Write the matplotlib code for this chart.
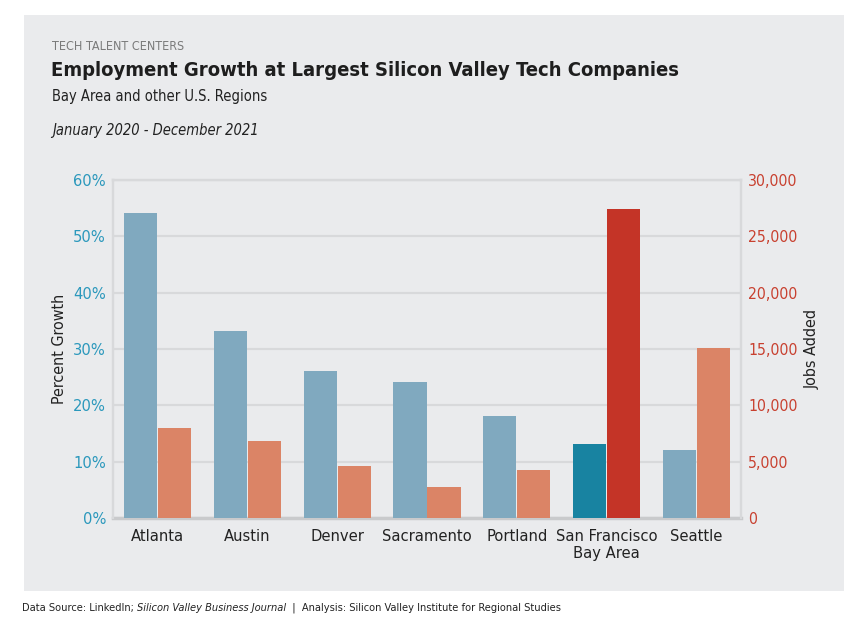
import matplotlib
matplotlib.use("Agg")
import matplotlib.pyplot as plt
import numpy as np
from matplotlib.patches import Rectangle
from matplotlib.ticker import FuncFormatter

regions = ["Atlanta", "Austin", "Denver", "Sacramento", "Portland", "San Francisco\nBay Area", "Seattle"]
percent_growth = [54.1, 33.2, 26.1, 24.1, 18.1, 13.1, 12.0]
jobs_added = [7970, 6840, 4590, 2750, 4240, 27400, 15070]
pct_ticks = [0, 10, 20, 30, 40, 50, 60]
jobs_ticks = [0, 5000, 10000, 15000, 20000, 25000, 30000]

plt.rcParams['font.family'] = ["DejaVu Sans"]
plt.rcParams['font.stretch'] = 'condensed'

W, H = 867, 636
fig = plt.figure(figsize=(W / 100, H / 100), dpi=100)
fig.patch.set_facecolor("white")

BG = "#EAEBED"
fig.patches.append(Rectangle((24 / W, 1 - 591 / H), (844 - 24) / W, (591 - 15) / H,
                             transform=fig.transFigure, facecolor=BG, edgecolor="none", zorder=-5))

x0, x1, y0, y1 = 113, 741, 180, 518
ax = fig.add_axes([x0 / W, 1 - y1 / H, (x1 - x0) / W, (y1 - y0) / H])
ax.set_facecolor("none")
ax2 = ax.twinx()
ax.set_zorder(2)
ax2.set_zorder(3)
ax2.patch.set_visible(False)

n = len(regions)
x = np.arange(n)
bw = 0.37
off = 0.19
blue_c = ["#80A9BF"] * n
org_c = ["#DB8466"] * n
blue_c[5] = "#1883A1"
org_c[5] = "#C43427"

ax.bar(x - off, percent_growth, width=bw, color=blue_c, zorder=3)
ax2.bar(x + off, jobs_added, width=bw, color=org_c, zorder=3)

ax.set_xlim(-0.5, n - 0.5)
ax.set_ylim(0, 60)
ax2.set_ylim(0, 30000)
ax.set_yticks(pct_ticks)
ax2.set_yticks(jobs_ticks)
ax.yaxis.set_major_formatter(FuncFormatter(lambda v, p: f"{int(v)}%"))
ax2.yaxis.set_major_formatter(FuncFormatter(lambda v, p: f"{int(v):,}"))
ax.grid(axis="y", color="#D8D9DB", linewidth=1.6, zorder=0)
ax.set_axisbelow(True)

ax.set_xticks(x)
ax.set_xticklabels(regions, fontsize=11.8, color="#222222", linespacing=1.15)
ax.tick_params(axis="x", length=0, pad=8)
ax.tick_params(axis="y", length=0, labelsize=11.8, labelcolor="#2B98BC", pad=5)
ax2.tick_params(axis="y", length=0, labelsize=11.3, labelcolor="#C8402F", pad=5)

for a in (ax, ax2):
    for s in a.spines.values():
        s.set_color("#D8D9DB")
        s.set_linewidth(1.6)
ax.spines["bottom"].set_color("#C9CACC")
ax.spines["bottom"].set_linewidth(2.5)
ax2.spines["bottom"].set_visible(False)

ax.set_ylabel("Percent Growth", fontsize=11.5, color="#222222")
ax.yaxis.set_label_coords((67 - x0) / (x1 - x0), 0.5)
ax2.set_ylabel("Jobs Added", fontsize=11.5, color="#222222", rotation=90)
ax2.yaxis.set_label_coords((805 - x0) / (x1 - x0), 0.5)

def ft(px, py, s, **kw):
    return fig.text(px / W, 1 - py / H, s, **kw)

ft(52, 47, "TECH TALENT CENTERS", fontsize=9, color="#7A7A7A", va="center")
ft(51, 71, "Employment Growth at Largest Silicon Valley Tech Companies", fontsize=14.5,
   fontweight="bold", color="#1E1E1E", va="center")
ft(52, 97, "Bay Area and other U.S. Regions", fontsize=10.5, color="#222222", va="center")
ft(52, 131, "January 2020 - December 2021", fontsize=10.5, style="italic", color="#222222", va="center")

# footer with mixed styles
FS = 7.9
t1 = ft(22, 608, "Data Source: LinkedIn; ", fontsize=FS, color="#222222", va="center")
fig.canvas.draw()
r = fig.canvas.get_renderer()
bb = t1.get_window_extent(r)
t2 = fig.text(bb.x1 / W, 1 - 608 / H, "Silicon Valley Business Journal", fontsize=FS, style="italic",
              color="#222222", va="center")
bb2 = t2.get_window_extent(r)
fig.text(bb2.x1 / W, 1 - 608 / H, "  |  Analysis: Silicon Valley Institute for Regional Studies",
         fontsize=FS, color="#222222", va="center")

fig.savefig("out.png", dpi=100, facecolor="white")
